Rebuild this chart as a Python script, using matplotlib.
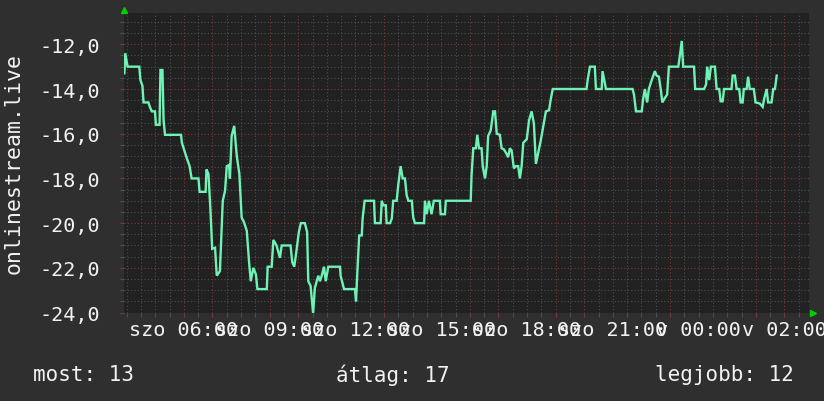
import matplotlib
matplotlib.use("Agg")
import matplotlib.pyplot as plt
from matplotlib.ticker import MultipleLocator, FuncFormatter

plt.rcParams['font.family'] = ['DejaVu Sans Mono']

# hours since saturday 00:00 (continuous, DST shift ignored)
hours = [3.92, 3.95, 4.03, 4.44, 4.48, 4.55, 4.59, 4.76, 4.81, 4.88, 4.99, 5.02,
         5.15, 5.18, 5.25, 5.29, 5.34, 5.90, 5.93, 6.04, 6.13, 6.20, 6.27, 6.51,
         6.55, 6.76, 6.79, 6.86, 6.93, 6.99, 7.09, 7.15, 7.26, 7.36, 7.44, 7.50,
         7.58, 7.61, 7.67, 7.76, 7.85, 7.94, 8.02, 8.10, 8.20, 8.28, 8.34, 8.43,
         8.52, 8.57, 8.90, 8.93, 9.07, 9.13, 9.24, 9.36, 9.42, 9.73, 9.79, 9.86,
         9.92, 10.02, 10.09, 10.23, 10.31, 10.35, 10.43, 10.52, 10.58, 10.70, 10.76, 10.82,
         10.90, 10.96, 11.05, 11.46, 11.48, 11.60, 11.98, 12.02, 12.06, 12.13, 12.22, 12.25,
         12.32, 12.65, 12.68, 12.88, 12.92, 12.97, 13.06, 13.09, 13.21, 13.27, 13.32, 13.44,
         13.50, 13.58, 13.65, 13.73, 13.79, 13.85, 13.97, 14.02, 14.08, 14.40, 14.43, 14.49,
         14.57, 14.66, 14.74, 14.95, 14.98, 15.13, 15.16, 16.03, 16.06, 16.12, 16.21, 16.26,
         16.32, 16.41, 16.45, 16.53, 16.59, 16.64, 16.73, 16.82, 16.88, 16.94, 17.05, 17.11,
         17.19, 17.26, 17.34, 17.40, 17.46, 17.54, 17.61, 17.69, 17.75, 17.81, 17.87, 17.99,
         18.07, 18.16, 18.24, 18.31, 18.39, 18.48, 18.57, 18.66, 18.77, 18.83, 18.90, 20.08,
         20.12, 20.20, 20.37, 20.41, 20.61, 20.64, 20.70, 20.76, 21.69, 21.74, 21.81, 22.01,
         22.06, 22.12, 22.20, 22.26, 22.36, 22.47, 22.53, 22.61, 22.68, 22.73, 22.82, 22.90,
         22.96, 23.29, 23.35, 23.41, 23.46, 23.84, 23.88, 24.19, 24.26, 24.30, 24.37, 24.43,
         24.57, 24.63, 24.72, 24.77, 24.84, 24.89, 25.15, 25.19, 25.27, 25.33, 25.42, 25.47,
         25.54, 25.58, 25.68, 25.73, 25.79, 25.93, 25.99, 26.14, 26.24, 26.29, 26.38, 26.43,
         26.55, 26.61, 26.67, 26.73]
values = [-13.3, -12.4, -13.0, -13.0, -13.6, -13.85, -14.6, -14.6, -14.8, -15.0, -15.0, -15.6,
          -15.6, -13.15, -13.15, -15.4, -16.05, -16.05, -16.4, -16.85, -17.2, -17.45, -18.0, -18.0,
          -18.6, -18.6, -17.6, -17.8, -19.45, -21.15, -21.1, -22.35, -22.15, -19.0, -18.55, -17.45,
          -17.4, -18.0, -16.1, -15.65, -17.0, -17.8, -19.75, -19.95, -20.35, -21.75, -22.6, -22.0,
          -22.3, -22.95, -22.95, -21.95, -21.95, -20.75, -21.0, -21.55, -21.0, -21.0, -21.75, -21.95,
          -21.4, -20.4, -20.0, -20.0, -20.4, -22.6, -22.8, -24.05, -22.9, -22.35, -22.6, -22.35,
          -21.95, -22.6, -21.95, -21.95, -22.35, -22.95, -22.95, -23.5, -22.35, -20.55, -20.55, -19.8,
          -19.0, -19.0, -20.0, -20.0, -19.0, -19.2, -19.2, -20.0, -20.0, -19.8, -19.0, -19.0,
          -18.25, -17.45, -18.0, -18.0, -18.75, -19.0, -19.0, -19.75, -20.0, -20.0, -19.0, -19.6,
          -19.0, -19.6, -19.0, -19.0, -19.6, -19.6, -19.0, -19.0, -17.85, -16.65, -16.65, -16.05,
          -16.65, -16.65, -17.45, -18.0, -17.45, -16.1, -15.85, -15.0, -15.0, -16.0, -16.05, -16.65,
          -16.7, -16.85, -17.05, -16.65, -16.75, -17.55, -17.45, -17.45, -18.0, -17.45, -16.4, -16.25,
          -15.4, -15.0, -15.55, -17.35, -16.85, -16.3, -15.65, -15.0, -14.95, -14.45, -14.0, -14.0,
          -13.6, -13.0, -13.0, -14.0, -14.0, -13.2, -13.6, -14.0, -14.0, -14.25, -15.0, -15.0,
          -14.45, -14.0, -14.6, -14.0, -13.6, -13.2, -13.4, -13.45, -14.05, -14.6, -14.4, -14.25,
          -13.0, -13.0, -12.45, -11.85, -13.0, -13.0, -14.0, -14.0, -13.8, -13.0, -13.6, -13.0,
          -13.0, -14.0, -14.0, -14.55, -14.55, -14.0, -14.0, -13.4, -13.4, -14.0, -14.0, -14.6,
          -14.6, -14.0, -14.0, -13.45, -14.0, -14.0, -14.6, -14.65, -14.8, -14.45, -14.0, -14.6,
          -14.6, -14.0, -14.0, -13.4]

tick_hours = [6, 9, 12, 15, 18, 21, 24, 27]
tick_labels = ["szo 06:00", "szo 09:00", "szo 12:00", "szo 15:00",
               "szo 18:00", "szo 21:00", "v 00:00", "v 02:00"]
y_label = "onlinestream.live"
legend_items = ["most: 13", "átlag: 17", "legjobb: 12"]

bg = '#2f2f2f'
plot_bg = '#212121'
fg = '#f2f2f2'
line_col = '#6ef2b6'
red_grid = '#7d3a3a'
gray_grid = '#505050'
arrow_col = '#00d000'

fig = plt.figure(figsize=(8.24, 4.02), dpi=100, facecolor=bg)
ax = fig.add_axes([124/824, 88/402, 685/824, 300/402], facecolor=plot_bg)

ax.plot(hours, values, color=line_col, lw=1.7, solid_joinstyle='miter', zorder=3)

ax.set_xlim(3.906, 27.86)
ax.set_ylim(-24.02, -10.6)

# hourly red grid, half-hour gray grid; 2.0 / 0.5 on the value axis
ax.xaxis.set_major_locator(MultipleLocator(1))
ax.xaxis.set_minor_locator(MultipleLocator(0.5))
ax.yaxis.set_major_locator(MultipleLocator(2))
ax.yaxis.set_minor_locator(MultipleLocator(0.5))
ax.grid(which='minor', color=gray_grid, linestyle=(0, (1, 2)), lw=0.8, zorder=1)
ax.grid(which='major', color=red_grid, linestyle=(0, (1, 2)), lw=0.8, zorder=2)
ax.set_axisbelow(True)

ax.tick_params(which='major', length=3, color=red_grid, width=0.8, direction='out')
ax.tick_params(which='minor', length=3, color=gray_grid, width=0.8, direction='out')
ax.tick_params(axis='x', which='major', labelbottom=False)
ax.yaxis.set_major_formatter(FuncFormatter(lambda v, p: f"{v:.1f}".replace('.', ',')))
ax.tick_params(axis='y', labelcolor=fg, labelsize=14.5, pad=14)

# time labels every 3 hours (they overlap, like the original)
for h, lab in zip(tick_hours, tick_labels):
    ax.text(h, -0.025, lab, transform=ax.get_xaxis_transform(), ha='center', va='top',
            color=fg, fontsize=14.5, clip_on=False)

for s in ax.spines.values():
    s.set_visible(False)

ax.set_ylabel(y_label, color=fg, fontsize=15.5)
ax.yaxis.set_label_coords(-0.146, 0.5)

# little arrows at the axis ends
ax.plot([0], [1.01], marker='^', ms=5, color=arrow_col, transform=ax.transAxes,
        clip_on=False, zorder=5)
ax.plot([1.006], [0.0], marker='>', ms=5, color=arrow_col, transform=ax.transAxes,
        clip_on=False, zorder=5)

fig.text(33/824, 1 - 375/402, legend_items[0], color=fg, fontsize=15, va='center', ha='left')
fig.text(336/824, 1 - 375/402, legend_items[1], color=fg, fontsize=15, va='center', ha='left')
fig.text(794/824, 1 - 375/402, legend_items[2], color=fg, fontsize=15, va='center', ha='right')

fig.savefig('out.png', dpi=100, facecolor=bg)
